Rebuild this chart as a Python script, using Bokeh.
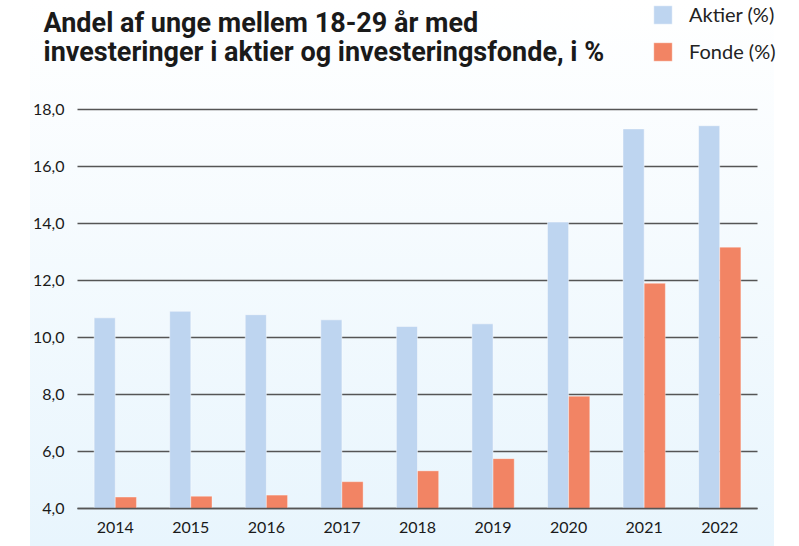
from bokeh.plotting import figure
from bokeh.models import (FixedTicker, Label, Legend, LegendItem, ColumnDataSource,
                          LinearAxis, Range1d, Grid)
from bokeh.transform import dodge
from bokeh.embed import file_html
from bokeh.resources import INLINE

years = [2014, 2015, 2016, 2017, 2018, 2019, 2020, 2021, 2022]
aktier = [10.69, 10.92, 10.80, 10.62, 10.39, 10.48, 14.05, 17.32, 17.43]
fonde = [4.40, 4.43, 4.47, 4.94, 5.32, 5.75, 7.94, 11.90, 13.17]
y_ticks = [4, 6, 8, 10, 12, 14, 16, 18]
y_tick_labels = ["4,0", "6,0", "8,0", "10,0", "12,0", "14,0", "16,0", "18,0"]
title_lines = ["Andel af unge mellem 18-29 år med",
               "investeringer i aktier og investeringsfonde, i %"]
series_names = ["Aktier (%)", "Fonde (%)"]

BLUE = "#bed5f0"
ORANGE = "#f28464"
W, H = 799, 546
FL, FR = 30, 15                  # borders left/right of the frame
FW, FH = W - FL - FR, H
PANEL_W = 744                    # width of the light-blue background panel
CAT_PX = 680 / len(years)        # pixel width of one year slot
PAD_L = 47                       # frame space left of the first slot
PAD_R = FW - PAD_L - 680         # frame space right of the last slot
Y_SPAN_PX = 399                  # pixels between lowest and highest tick line
BASE_PX = 508                    # pixel row of the lowest tick line

x0 = years[0] - 0.5
x1 = years[-1] + 0.5
x_range = Range1d(x0 - PAD_L / CAT_PX, x1 + PAD_R / CAT_PX)
px_per_unit = Y_SPAN_PX / (y_ticks[-1] - y_ticks[0])
y_range = Range1d(y_ticks[0] - (H - BASE_PX) / px_per_unit,
                  y_ticks[0] + BASE_PX / px_per_unit)

src = ColumnDataSource(dict(year=years, aktier=aktier, fonde=fonde))

p = figure(width=W, height=H, x_range=x_range, y_range=y_range,
           output_backend="svg", toolbar_location=None,
           x_axis_location=None, y_axis_location=None,
           min_border_left=FL, min_border_right=FR, min_border_top=0, min_border_bottom=0)
p.styles = {"background-image": "linear-gradient(to bottom, #ffffff, #e8f5fd)",
            "background-size": f"{PANEL_W}px 100%",
            "background-position": f"{FL}px 0px",
            "background-repeat": "no-repeat"}
p.border_fill_alpha = 0
p.background_fill_alpha = 0
p.outline_line_color = None

r1 = p.vbar(x=dodge("year", -0.14), top="aktier", bottom=y_ticks[0],
            width=0.28, source=src, fill_color=BLUE, line_color="white", line_alpha=0.45, line_width=1)
r2 = p.vbar(x=dodge("year", 0.14), top="fonde", bottom=y_ticks[0],
            width=0.28, source=src, fill_color=ORANGE, line_color="white", line_alpha=0.35, line_width=1)

# x axis (years) fixed at the lowest tick line
xax = LinearAxis(fixed_location=y_ticks[0], ticker=FixedTicker(ticks=years),
                 major_label_overrides={y: str(y) for y in years})
xax.bounds = (x0, x1)
xax.axis_line_color = "#555555"
xax.axis_line_width = 1.5
xax.major_label_standoff = 7
p.add_layout(xax, "below")

# y axis placed at the left end of the year slots
yax = LinearAxis(fixed_location=x0, ticker=FixedTicker(ticks=y_ticks),
                 major_label_overrides={t: l for t, l in zip(y_ticks, y_tick_labels)})
yax.axis_line_color = None
yax.major_label_standoff = 7
p.add_layout(yax, "left")

for ax in (xax, yax):
    ax.major_tick_line_color = None
    ax.minor_tick_line_color = None
    ax.major_label_text_font = "Lato"
    ax.major_label_text_font_size = "16px"
    ax.major_label_text_color = "#1a1a1a"

# horizontal grid lines limited to the span of the year slots
p.xgrid.visible = False
p.ygrid.visible = False
yg = Grid(dimension=1, ticker=FixedTicker(ticks=y_ticks), grid_line_color="#555555",
          grid_line_width=1.5, cross_bounds=(x0, x1))
yg.level = "underlay"
p.add_layout(yg, "center")

# title (two lines), positioned in screen pixels relative to the frame bottom
for i, line in enumerate(title_lines):
    p.add_layout(Label(x=13, y=H - 22 - i * 29, x_units="screen", y_units="screen",
                       text=line, text_font="Roboto", text_font_style="bold",
                       text_font_size="27px", text_color="#1a1a1a",
                       text_baseline="alphabetic"))

legend = Legend(items=[LegendItem(label=series_names[0], renderers=[r1]),
                       LegendItem(label=series_names[1], renderers=[r2])],
                location=(621, H - 63), orientation="vertical",
                glyph_width=23, glyph_height=23, spacing=13, label_standoff=15,
                padding=0, margin=0, border_line_color=None, background_fill_alpha=0,
                label_text_font="Lato", label_text_font_size="20px", label_text_color="#222222",
                label_height=23)
p.add_layout(legend, "center")

open("out.html", "w").write(file_html(p, INLINE))
